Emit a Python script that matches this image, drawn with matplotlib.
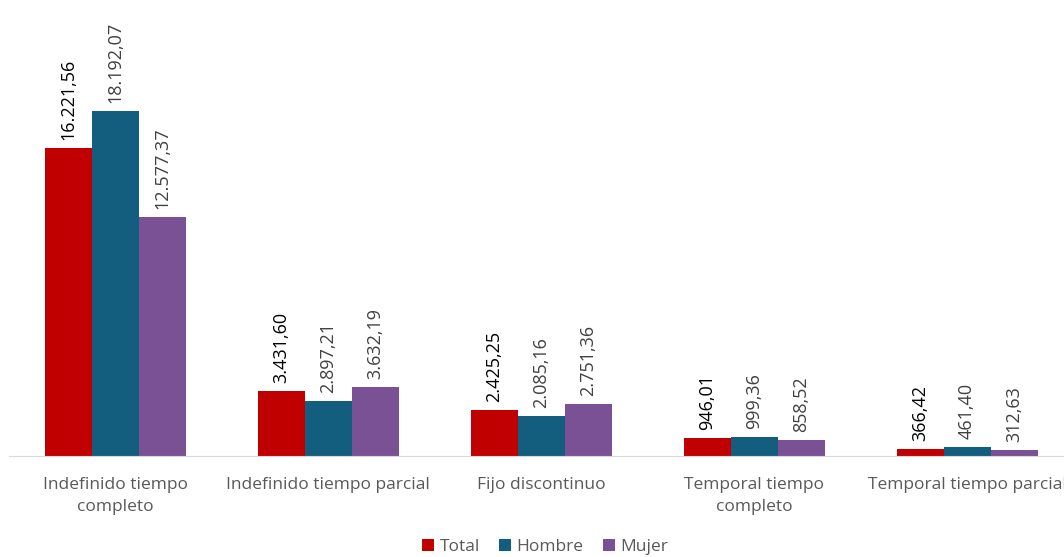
import matplotlib
matplotlib.use("Agg")
import matplotlib.pyplot as plt
import numpy as np

categories = ["Indefinido tiempo\ncompleto", "Indefinido tiempo parcial", "Fijo discontinuo",
              "Temporal tiempo\ncompleto", "Temporal tiempo parcial"]
series_names = ["Total", "Hombre", "Mujer"]
total = [16221.56, 3431.60, 2425.25, 946.01, 366.42]
hombre = [18192.07, 2897.21, 2085.16, 999.36, 461.40]
mujer = [12577.37, 3632.19, 2751.36, 858.52, 312.63]
colors = ["#C00000", "#135E7E", "#7A5195"]

plt.rcParams['font.family'] = ['Open Sans', 'DejaVu Sans']

W, H = 1064, 557
fig = plt.figure(figsize=(W / 100, H / 100), dpi=100)
pitch = 213.0
left_px = 115 - pitch / 2
width_px = pitch * 5
bottom_px = H - 456
ax = fig.add_axes([left_px / W, bottom_px / H, width_px / W, (H - bottom_px) / H])
ax.set_xlim(-0.5, 4.5)
ppu = 308.0 / 16221.56
ax.set_ylim(0, 456 / ppu)

x = np.arange(len(categories))
bw = 47 / pitch
data = [total, hombre, mujer]
for i, (vals, name, c) in enumerate(zip(data, series_names, colors)):
    pos = x + (i - 1) * bw
    ax.bar(pos, vals, bw, color=c, label=name, zorder=2)
    for p, v in zip(pos, vals):
        s = f"{v:,.2f}".replace(",", "X").replace(".", ",").replace("X", ".")
        ax.text(p, v + 8 / ppu, s, rotation=90, ha="center", va="bottom",
                fontsize=13, color="#000000" if i == 0 else "#404040",
                fontweight="medium" if i == 0 else "normal", clip_on=False)

for sp in ["top", "right", "left"]:
    ax.spines[sp].set_visible(False)
ax.spines["bottom"].set_color("#D9D9D9")
ax.set_yticks([])
ax.set_xticks(x)
ax.set_xticklabels(categories, fontsize=12.5, color="#595959", linespacing=1.55)
ax.tick_params(axis="x", length=0, pad=15)

fig.legend(loc="center", bbox_to_anchor=(545 / W, 1 - 547 / H), ncol=3, frameon=False,
           fontsize=12.5, handlelength=0.7, handleheight=0.7, handletextpad=0.3,
           columnspacing=1.1, labelcolor="#595959")

fig.savefig("out.png", dpi=100)
